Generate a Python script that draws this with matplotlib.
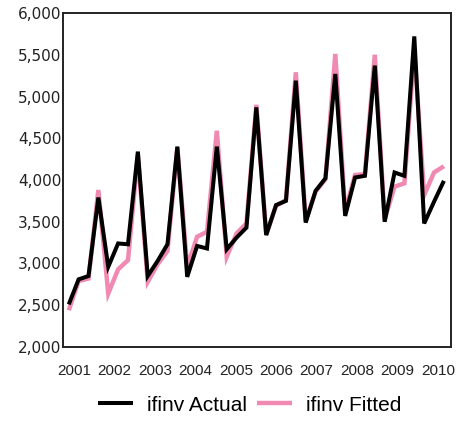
import matplotlib
matplotlib.use("Agg")
import matplotlib.pyplot as plt
import numpy as np

# Quarterly observations, 2001Q1 - 2010Q3
years = ["2001", "2002", "2003", "2004", "2005", "2006", "2007", "2008", "2009", "2010"]

actual = [2510, 2810, 2850, 3790, 2960, 3240, 3230, 4340,
          2850, 3030, 3230, 4400, 2840, 3210, 3180, 4400,
          3170, 3310, 3430, 4870, 3340, 3700, 3750, 5190,
          3490, 3870, 4020, 5270, 3570, 4030, 4050, 5370,
          3500, 4090, 4050, 5720, 3480, 3740, 3990]

fitted = [2440, 2790, 2820, 3880, 2640, 2930, 3040, 4300,
          2780, 2990, 3150, 4390, 2960, 3320, 3380, 4590,
          3080, 3360, 3480, 4900, 3350, 3690, 3760, 5290,
          3510, 3860, 4010, 5510, 3620, 4060, 4070, 5500,
          3530, 3920, 3960, 5550, 3820, 4090, 4165]

y_ticks = [2000, 2500, 3000, 3500, 4000, 4500, 5000, 5500, 6000]

x = np.arange(len(actual))

fig = plt.figure(figsize=(4.59, 4.21), dpi=100)
ax = fig.add_axes([0.1373, 0.1758, 0.8453, 0.7933])

ax.plot(x, fitted, color="#F08AB2", lw=3.2, solid_joinstyle="miter",
        solid_capstyle="butt", label="ifinv Fitted", zorder=2)
ax.plot(x, actual, color="black", lw=2.9, solid_joinstyle="miter",
        solid_capstyle="butt", label="ifinv Actual", zorder=3)

ax.set_xlim(-0.58, 38.72)
ax.set_ylim(2000, 6000)

ax.set_yticks(y_ticks)
ax.set_yticklabels([f"{v:,}" for v in y_ticks], fontsize=11,
                   family="DejaVu Sans", color="#222222")
ax.tick_params(axis="y", length=0, pad=1)

ax.set_xticks(np.linspace(0.54, 37.4, len(years)))
ax.set_xticklabels(years, fontsize=11, family="Liberation Sans", color="#222222")
ax.tick_params(axis="x", length=0, pad=12)

for s in ax.spines.values():
    s.set_linewidth(1.4)
    s.set_color("#222222")

handles, labels = ax.get_legend_handles_labels()
fig.legend(handles[::-1], labels[::-1], loc="center",
           bbox_to_anchor=(0.5436, 0.038), ncol=2, frameon=False,
           prop={"family": "Liberation Sans", "size": 15},
           handlelength=1.68, handletextpad=0.67, columnspacing=0.48)

fig.savefig("out.png", dpi=100)
